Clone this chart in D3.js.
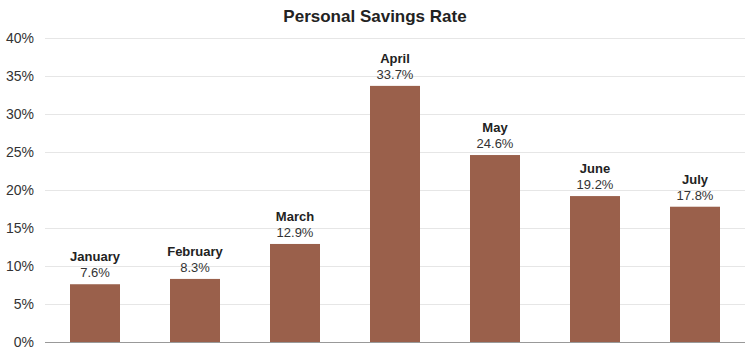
<!DOCTYPE html>
<html>
<head>
<meta charset="utf-8">
<script src="https://cdn.jsdelivr.net/npm/d3@7"></script>
<style>
  body { margin: 0; background: #fff; }
  svg { font-family: Arial, "Liberation Sans", sans-serif; }
</style>
</head>
<body>
<svg id="chart" width="750" height="353"></svg>
<script>
// data
const months = ["January", "February", "March", "April", "May", "June", "July"];
const rates = [7.6, 8.3, 12.9, 33.7, 24.6, 19.2, 17.8];
const yTicks = [0, 5, 10, 15, 20, 25, 30, 35, 40];

const width = 750, height = 353;
const margin = {top: 38, right: 5, bottom: 11, left: 45};

const svg = d3.select("#chart");

const x = d3.scaleBand()
  .domain(months)
  .range([margin.left, width - margin.right])
  .paddingInner(0.5)
  .paddingOuter(0.25);

const y = d3.scaleLinear()
  .domain([0, 40])
  .range([height - margin.bottom, margin.top]);

// title
svg.append("text")
  .attr("x", 375)
  .attr("y", 22)
  .attr("text-anchor", "middle")
  .style("font-size", "17px")
  .style("font-weight", "bold")
  .attr("fill", "#222")
  .text("Personal Savings Rate");

// gridlines + y labels
const yAxis = svg.append("g")
  .attr("transform", `translate(${margin.left},0)`)
  .call(d3.axisLeft(y).tickValues(yTicks).tickFormat(d => d + "%")
    .tickSize(-(width - margin.left - margin.right)).tickPadding(11));
yAxis.select(".domain").remove();
yAxis.selectAll(".tick line").attr("stroke", "#e6e6e6");
yAxis.selectAll(".tick text")
  .attr("fill", "#333")
  .style("font-size", "14px")
  .style("font-family", "Arial, 'Liberation Sans', sans-serif");

// bars
svg.append("g")
  .selectAll("rect")
  .data(months)
  .join("rect")
  .attr("x", d => x(d))
  .attr("width", x.bandwidth())
  .attr("y", (d, i) => y(rates[i]))
  .attr("height", (d, i) => y(0) - y(rates[i]))
  .attr("fill", "#9a604b");

// baseline
svg.append("line")
  .attr("x1", margin.left)
  .attr("x2", width - margin.right)
  .attr("y1", y(0) + 0.5)
  .attr("y2", y(0) + 0.5)
  .attr("stroke", "#999");

// labels
const lbl = svg.append("g")
  .selectAll("g")
  .data(months)
  .join("g")
  .attr("transform", (d, i) => `translate(${x(d) + x.bandwidth() / 2},${y(rates[i])})`);

lbl.append("text")
  .attr("y", -23)
  .attr("text-anchor", "middle")
  .style("font-size", "13px")
  .style("font-weight", "bold")
  .attr("fill", "#222")
  .text(d => d);

lbl.append("text")
  .attr("y", -7)
  .attr("text-anchor", "middle")
  .style("font-size", "13px")
  .attr("fill", "#333")
  .text((d, i) => rates[i].toFixed(1) + "%");
</script>
</body>
</html>
